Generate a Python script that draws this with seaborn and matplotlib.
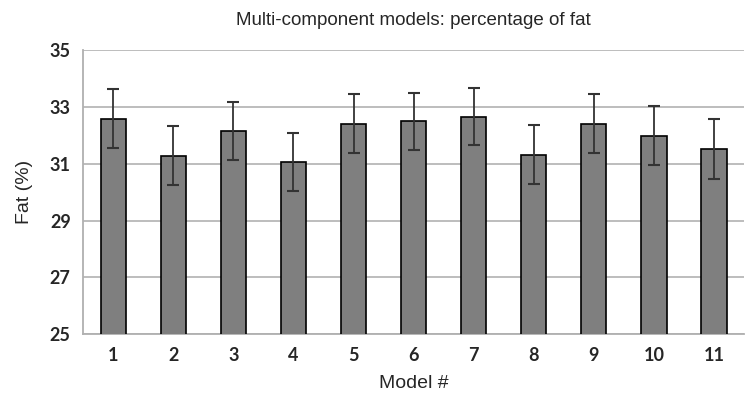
import matplotlib
matplotlib.use("Agg")
import matplotlib.pyplot as plt
import seaborn as sns
import pandas as pd
import numpy as np

models = ["1", "2", "3", "4", "5", "6", "7", "8", "9", "10", "11"]
fat_mean = [32.58, 31.28, 32.15, 31.05, 32.40, 32.49, 32.66, 31.31, 32.40, 31.99, 31.51]
fat_err = [1.04, 1.03, 1.03, 1.02, 1.04, 1.01, 1.01, 1.04, 1.04, 1.05, 1.05]
y_ticks = [25, 27, 29, 31, 33, 35]

df = pd.DataFrame({"Model": models, "Fat": fat_mean, "Err": fat_err})

sns.set_style("white")
plt.rcParams['font.family'] = ['Liberation Sans', 'DejaVu Sans']

fig = plt.figure(figsize=(7.5, 4.07), dpi=100)
ax = fig.add_axes([0.111, 0.179, 0.881, 0.698])

sns.barplot(data=df, x="Model", y="Fat", order=models, color="#7f7f7f",
            saturation=1, width=0.42, edgecolor="black", linewidth=1.2,
            errorbar=None, ax=ax, zorder=3)

xpos = np.arange(len(models))
ax.errorbar(xpos, df["Fat"], yerr=df["Err"], fmt="none", ecolor="#333333",
            elinewidth=1.3, capsize=4, capthick=1.5, zorder=4)

ax.set_ylim(25, 35)
ax.set_yticks(y_ticks)
ax.set_yticklabels([str(t) for t in y_ticks], fontsize=13, fontweight="bold",
                   family=["Lato", "DejaVu Sans"])
ax.set_xticks(xpos)
ax.set_xticklabels(models, fontsize=13, fontweight="bold", family=["Lato", "DejaVu Sans"])
ax.set_xlim(-0.5, len(models) - 0.5)

ax.yaxis.grid(True, color="#b8b8b8", linewidth=1.3, zorder=0)
ax.set_axisbelow(True)
for s in ["top", "right"]:
    ax.spines[s].set_visible(False)
ax.spines["left"].set_color("#b0b0b0")
ax.spines["bottom"].set_color("#b0b0b0")
ax.spines["left"].set_linewidth(1.3)
ax.spines["bottom"].set_linewidth(1.3)
ax.tick_params(axis="both", length=0, pad=9)

ax.set_xlabel("Model #", fontsize=14, labelpad=8)
ax.set_ylabel("Fat (%)", fontsize=14, labelpad=12)
ax.set_title("Multi-component models: percentage of fat", fontsize=13.5, pad=18)

fig.savefig("out.png", dpi=100)
